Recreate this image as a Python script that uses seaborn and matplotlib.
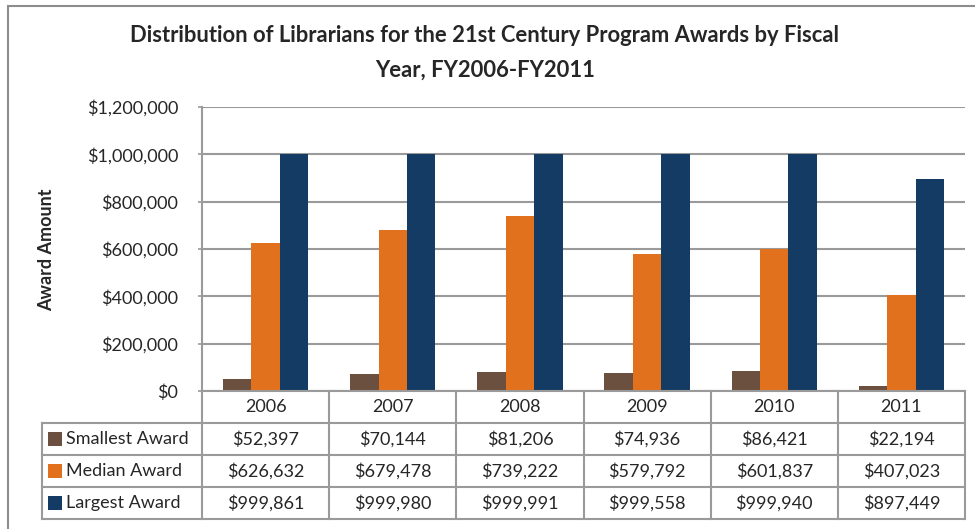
"""
Librarians for the 21st Century awards by fiscal year:
grouped bars with an Excel-style data table underneath.
"""

import numpy as np
import pandas as pd
import matplotlib.pyplot as plt
import matplotlib.transforms as mtransforms
import seaborn as sns
from matplotlib.patches import Rectangle


YEARS    = ["2006", "2007", "2008", "2009", "2010", "2011"]
SERIES   = ["Smallest Award", "Median Award", "Largest Award"]
SMALLEST = [52397, 70144, 81206, 74936, 86421, 22194]
MEDIAN   = [626632, 679478, 739222, 579792, 601837, 407023]
LARGEST  = [999861, 999980, 999991, 999558, 999940, 897449]
YTICKS   = [0, 200000, 400000, 600000, 800000, 1000000, 1200000]

COLORS = ["#6B4F3F", "#E2711D", "#143B63"]
GRID   = "#9A9A9A"

W, H = 975, 529
PLOT_TOP, PLOT_BOT = 107, 391          # pixel rows of the plot area
ROW_EDGES = [391, 423, 455, 487, 519]  # pixel rows of the data table

sns.set_style("white")
plt.rcParams["font.family"] = ["Lato", "DejaVu Sans"]


def px(x0, y0, x1, y1):
    """pixel box (top-left origin) -> figure fraction rect"""
    return [x0 / W, 1 - y1 / H, (x1 - x0) / W, (y1 - y0) / H]


def ay(y):
    """pixel row -> axes fraction"""
    return (PLOT_BOT - y) / (PLOT_BOT - PLOT_TOP)


fig = plt.figure(figsize=(W / 100, H / 100), dpi=100)

# outer chart border (runs off the right/bottom edge like the screenshot)
fig.patches.append(Rectangle((8 / W, -0.05), 1.1, 1 - 6 / H + 0.05,
                             transform=fig.transFigure, fill=False,
                             edgecolor="#8C8C8C", linewidth=1.5))

ax = fig.add_axes(px(202, PLOT_TOP, 965, PLOT_BOT))

df = pd.DataFrame({
    "Year":   YEARS * 3,
    "Series": np.repeat(SERIES, len(YEARS)),
    "Amount": SMALLEST + MEDIAN + LARGEST,
})
sns.barplot(data=df, x="Year", y="Amount", hue="Series", hue_order=SERIES,
            palette=COLORS, saturation=1, width=0.67, linewidth=0,
            legend=False, ax=ax)

n = len(YEARS)
ax.set_xlim(-0.5, n - 0.5)
ax.set_ylim(0, 1200000)
ax.set_yticks(YTICKS)
ax.set_yticklabels([f"${v:,.0f}" for v in YTICKS], fontsize=13)
ax.set_xticks([])
ax.set_xlabel("")
ax.set_ylabel("")
ax.grid(axis="y", color=GRID, linewidth=1.5)
ax.set_axisbelow(True)
ax.tick_params(axis="y", length=3, width=1.2, color=GRID, pad=14, left=True)
for side in ["top", "right"]:
    ax.spines[side].set_visible(False)
for side in ["left", "bottom"]:
    ax.spines[side].set_color(GRID)
    ax.spines[side].set_linewidth(1.5)

# data table under the bars: x in category units, y in axes fraction
trans = mtransforms.blended_transform_factory(ax.transData, ax.transAxes)
col_px = (965 - 202) / n
x_left = -0.5 - 160 / col_px
line_kw = dict(color=GRID, linewidth=1.5, transform=trans, clip_on=False,
               solid_capstyle="projecting")

for y in ROW_EDGES[1:]:
    ax.plot([x_left, n - 0.5], [ay(y)] * 2, **line_kw)
for k in range(n + 1):
    ax.plot([k - 0.5] * 2, [ay(ROW_EDGES[0]), ay(ROW_EDGES[-1])], **line_kw)
ax.plot([x_left] * 2, [ay(ROW_EDGES[1]), ay(ROW_EDGES[-1])], **line_kw)

mid = [ay((a + b) / 2) for a, b in zip(ROW_EDGES[:-1], ROW_EDGES[1:])]
for i, year in enumerate(YEARS):
    ax.text(i, mid[0], year, transform=trans, ha="center", va="center",
            fontsize=13)
for r, values in enumerate((SMALLEST, MEDIAN, LARGEST)):
    for i, v in enumerate(values):
        ax.text(i, mid[r + 1], f"${v:,.0f}", transform=trans,
                ha="center", va="center", fontsize=13)

# legend keys inside the row-label cells
for r, (name, color) in enumerate(zip(SERIES, COLORS)):
    yc = (ROW_EDGES[r + 1] + ROW_EDGES[r + 2]) / 2
    fig.patches.append(Rectangle((48 / W, 1 - (yc + 7) / H), 14 / W, 14 / H,
                                 transform=fig.transFigure, facecolor=color,
                                 edgecolor="none"))
    fig.text(66 / W, 1 - yc / H, name, fontsize=13, ha="left", va="center")

fig.text(485 / W, 1 - 36 / H,
         "Distribution of Librarians for the 21st Century Program Awards by Fiscal",
         ha="center", va="center", fontsize=15.8, fontweight="bold")
fig.text(485 / W, 1 - 70 / H, "Year, FY2006-FY2011",
         ha="center", va="center", fontsize=15.8, fontweight="bold")
fig.text(47 / W, 1 - 250 / H, "Award Amount", rotation=90,
         ha="center", va="center", fontsize=13, fontweight="bold")

fig.savefig("out.png", dpi=100)
